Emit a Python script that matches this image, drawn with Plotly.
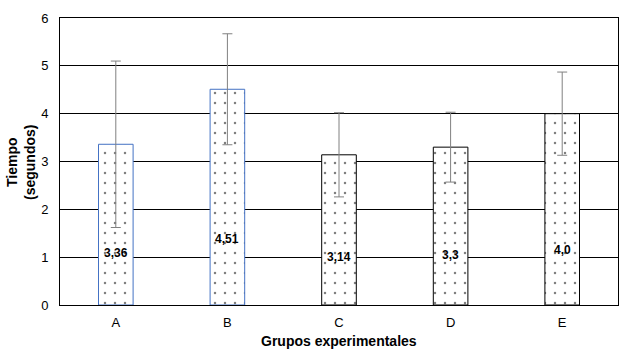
import plotly.graph_objects as go

categories = ["A", "B", "C", "D", "E"]
values = [3.36, 4.51, 3.14, 3.3, 4.0]
errors = [1.74, 1.16, 0.88, 0.73, 0.87]
labels = ["3,36", "4,51", "3,14", "3,3", "4,0"]
label_y = [1.09, 1.37, 1.0, 1.05, 1.15]
outline_colors = ["#4472C4", "#4472C4", "#000000", "#000000", "#000000"]

FONT = "Liberation Sans, Arial"

fig = go.Figure()
fig.add_trace(go.Bar(
    x=categories, y=values, width=0.31,
    marker=dict(
        color="white",
        line=dict(color=outline_colors, width=1),
        pattern=dict(shape=".", fgcolor="black", bgcolor="white", size=10, solidity=0.05),
    ),
    error_y=dict(type="data", array=errors, visible=True, color="#808080", thickness=1, width=5),
    showlegend=False,
))

for c, t, yy in zip(categories, labels, label_y):
    fig.add_annotation(x=c, y=yy, text="<b>" + t + "</b>", showarrow=False,
                       font=dict(family=FONT, size=12, color="black"))

fig.add_annotation(x=0.5, xref="paper", y=(305 - 341) / 287.0, yref="paper",
                   yanchor="middle", text="<b>Grupos experimentales</b>",
                   showarrow=False, font=dict(family=FONT, size=14, color="black"))
fig.add_annotation(x=(21 - 60) / 558.0, xref="paper", y=(305 - 163) / 287.0, yref="paper",
                   text="<b>Tiempo<br>(segundos)</b>", textangle=-90, showarrow=False,
                   xanchor="center", yanchor="middle",
                   font=dict(family=FONT, size=14, color="black"))

fig.update_layout(
    width=627, height=354,
    margin=dict(l=60, r=9, t=18, b=49, autoexpand=False),
    paper_bgcolor="white", plot_bgcolor="white",
    font=dict(family=FONT, size=13, color="black"),
    xaxis=dict(
        showline=True, linecolor="black", linewidth=1, mirror=True,
        ticks="", tickfont=dict(size=13), ticklabelstandoff=5, automargin=False,
    ),
    yaxis=dict(
        range=[0, 6], dtick=1, showgrid=True, gridcolor="black", gridwidth=1,
        showline=True, linecolor="black", linewidth=1, mirror=True,
        ticks="", tickfont=dict(size=13), zeroline=False, ticklabelstandoff=8,
        automargin=False,
    ),
)

fig.write_html("out.html", config={"displayModeBar": False},
               post_script="document.body.style.margin='0';document.body.style.overflow='hidden';")
